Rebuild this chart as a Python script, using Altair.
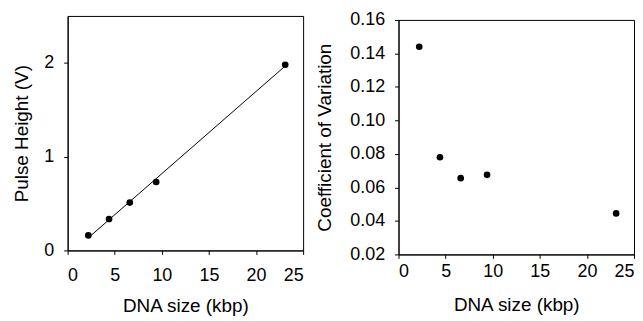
import altair as alt
import pandas as pd

dna_size = [2.2, 4.4, 6.6, 9.4, 23.1]
pulse_height = [0.16, 0.335, 0.51, 0.73, 1.98]
cv = [0.144, 0.078, 0.0655, 0.0675, 0.0445]

df = pd.DataFrame({"size": dna_size, "ph": pulse_height, "cv": cv})

FONT = "Liberation Sans"
x_ticks = [0, 5, 10, 15, 20, 25]

xax_l = alt.Axis(values=x_ticks, format="d", tickSize=4, labelPadding=12,
                 grid=False, titlePadding=12)
xax_r = alt.Axis(values=x_ticks, format="d", tickSize=4, labelPadding=4,
                 grid=False, titlePadding=15)

left_base = alt.Chart(df)
pts_l = left_base.mark_circle(size=45, color="black", opacity=1).encode(
    x=alt.X("size:Q", title="DNA size (kbp)", scale=alt.Scale(domain=[0, 25], nice=False), axis=xax_l),
    y=alt.Y("ph:Q", title="Pulse Height (V)", scale=alt.Scale(domain=[0, 2.5], nice=False),
            axis=alt.Axis(values=[0, 1, 2], format="d", tickSize=4, labelPadding=10, grid=False, titlePadding=12)),
)
line_l = left_base.mark_line(color="black", strokeWidth=1).encode(
    x="size:Q", y="ph:Q"
).transform_regression("size", "ph")

left = alt.layer(line_l, pts_l).properties(width=237, height=236)

right = alt.Chart(df).mark_circle(size=45, color="black", opacity=1).encode(
    x=alt.X("size:Q", title="DNA size (kbp)", scale=alt.Scale(domain=[0, 25], nice=False), axis=xax_r),
    y=alt.Y("cv:Q", title="Coefficient of Variation", scale=alt.Scale(domain=[0.02, 0.16], nice=False),
            axis=alt.Axis(values=[0.02, 0.04, 0.06, 0.08, 0.10, 0.12, 0.14, 0.16], format=".2f",
                          tickSize=4, labelPadding=10, grid=False, titlePadding=15)),
).properties(width=237, height=236)

spacer = alt.Chart(df).mark_point(opacity=0).encode(
    x=alt.value(0), y=alt.value(0)
).properties(width=237, height=4, view=alt.ViewBackground(stroke="transparent"))

right_col = alt.vconcat(spacer, right, spacing=0, bounds="flush")

chart = alt.hconcat(left, right_col, spacing=11).properties(
    padding={"left": 4, "top": 1, "right": 0, "bottom": 0}
).configure_view(
    stroke="black", strokeWidth=1
).configure_axis(
    labelFont=FONT, titleFont=FONT, labelFontSize=18, titleFontSize=19,
    titleFontWeight="normal", labelColor="black", titleColor="black",
    domainColor="black", tickColor="black"
)

chart.save("out.html", embed_options={"renderer": "svg", "actions": False})
